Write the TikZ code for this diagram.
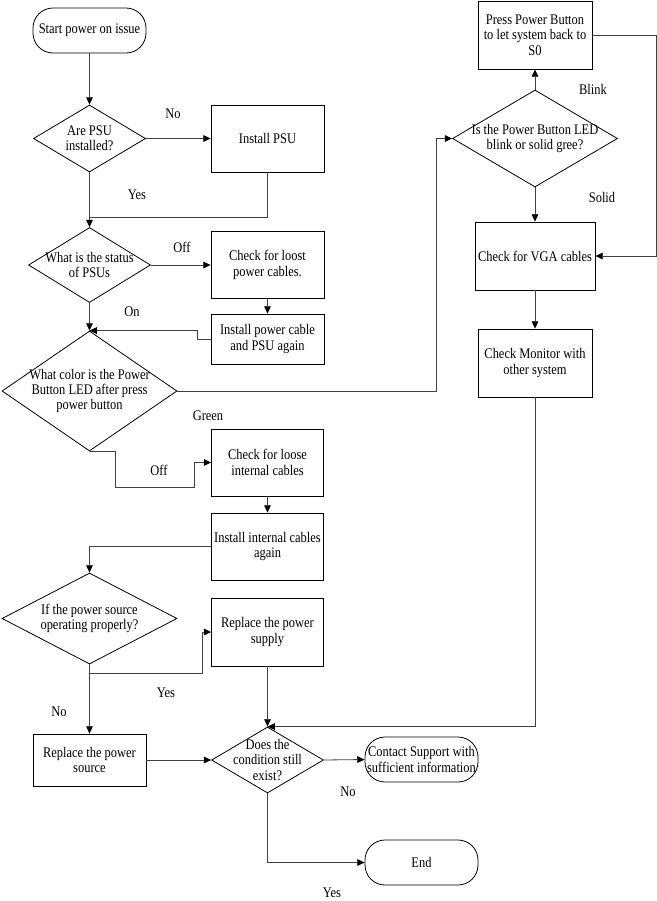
\documentclass[tikz,border=0pt]{standalone}
\usepackage{fontspec}
\setmainfont{Liberation Serif}[FakeStretch=0.85]
\usetikzlibrary{shapes.geometric,arrows.meta,calc}
\begin{document}
\begin{tikzpicture}[x=0.75pt,y=-0.75pt,
  every node/.style={font=\fontsize{11pt}{11.5pt}\selectfont},
  shp/.style={draw=black, line width=0.6pt, align=center, inner sep=1pt},
  boxa/.style={shp, rectangle, minimum width=84.75pt, minimum height=50.25pt},
  term/.style={shp, rectangle, rounded corners=15pt, minimum width=84.75pt, minimum height=33.75pt},
  dia/.style={shp, diamond},
  lab/.style={inner sep=0pt, align=center},
  conn/.style={draw=black!75, line width=0.6pt},
  arr/.style={conn, -{Triangle[length=5.5pt,width=5pt,color=black]}},
]
\useasboundingbox (0,0) rectangle (657,901);

% left column
\node[term] (start) at (89.5,30.5) {Start power on issue};
\node[dia, minimum width=84pt, minimum height=50.25pt,
  label={[lab]center:Are PSU\\installed?}] (d1) at (89.5,138.5) {};
\node[boxa] (psu) at (267.5,138.5) {Install PSU};
\node[dia, minimum width=91.5pt, minimum height=56.25pt,
  label={[lab]center:What is the status\\of PSUs}] (d2) at (89.5,265) {};
\node[boxa] (loost) at (267.5,265) {Check for loost\\power cables.};
\node[boxa, minimum height=37.5pt] (cable) at (267.5,339) {Install power cable\\and PSU again};
\node[dia, minimum width=131.25pt, minimum height=90pt,
  label={[lab]center:What color is the Power\\Button LED after press\\power button}] (d3) at (89.5,391) {};
\node[boxa, minimum width=84pt] (loose) at (267.5,462.5) {Check for loose\\internal cables};
\node[boxa, minimum width=84pt] (again) at (267.5,546.5) {Install internal cables\\again};
\node[dia, minimum width=131.25pt, minimum height=68.25pt,
  label={[lab]center:If the power source\\operating properly?}] (d5) at (89.5,618.5) {};
\node[boxa, minimum width=84pt, minimum height=51pt] (supply) at (267.5,632) {Replace the power\\supply};
\node[boxa, minimum height=39pt] (source) at (89.5,760) {Replace the power\\source};
\node[dia, minimum width=84pt, minimum height=49.5pt,
  label={[lab]center:Does the\\condition still\\exist?}] (d6) at (267.5,760) {};
\node[term] (contact) at (421.5,759.5) {Contact Support with\\sufficient information};
\node[term] (end) at (421.5,862.5) {End};

% right column
\node[boxa, minimum width=85.5pt, minimum height=51pt] (press) at (535,35) {Press Power Button\\to let system back to\\S0};
\node[dia, minimum width=123.75pt, minimum height=72.75pt,
  label={[lab]center:Is the Power Button LED\\blink or solid gree?}] (d4) at (535,138.5) {};
\node[boxa, minimum width=90pt, minimum height=51pt] (vga) at (535,256) {Check for VGA cables};
\node[boxa, minimum width=85.5pt, minimum height=51pt] (mon) at (535,363) {Check Monitor with\\other system};

% labels
\node[lab] (lno1) at (173,114) {No};
\node[lab] (lyes1) at (137,195) {Yes};
\node[lab] (loff1) at (182,247) {Off};
\node[lab] (lon) at (132,312) {On};
\node[lab] (lgreen) at (208,416) {Green};
\node[lab] (loff2) at (159,470) {Off};
\node[lab] (lyes2) at (166,693) {Yes};
\node[lab] (lno2) at (59,712) {No};
\node[lab] (lno3) at (348,792) {No};
\node[lab] (lyes3) at (332,893) {Yes};
\node[lab] (lblink) at (593,89) {Blink};
\node[lab] (lsolid) at (602,197) {Solid};

% connectors
\coordinate (j1) at (89.5,217);
\draw[arr] (start.south) -- (d1.north);
\draw[arr] (d1.east) -- (psu.west);
\draw[arr] (d1.south) -- (d2.north);
\draw[conn] (psu.south) |- (j1);
\draw[arr] (d2.east) -- (loost.west);
\draw[arr] (loost.south) -- (cable.north);
\draw[arr] (d2.south) -- (d3.north);
\draw[arr] (cable.west) -- ++(-13,0) |- (d3.north);
\draw[arr] (d3.east) -- ++(259,0) |- (d4.west);
\draw[arr] (d4.north) -- (press.south);
\draw[arr] (d4.south) -- (vga.north);
\draw[arr] (press.east) -- ++(64,0) |- (vga.east);
\draw[arr] (vga.south) -- (mon.north);
\draw[arr] (mon.south) |- (d6.north);
\draw[arr] (d3.south) -- ++(26,0) |- ++(79,36) |- (loose.west);
\draw[arr] (loose.south) -- (again.north);
\draw[arr] (again.west) -| (d5.north);
\draw[arr] (d5.south) -- (source.north);
\draw[arr] ($(d5.south)+(0,9)$) -- ++(113,0) |- (supply.west);
\draw[arr] (supply.south) -- (d6.north);
\draw[arr] (source.east) -- (d6.west);
\draw[arr] (d6.east) -- (contact.west);
\draw[arr] (d6.south) |- (end.west);
\end{tikzpicture}
\end{document}
